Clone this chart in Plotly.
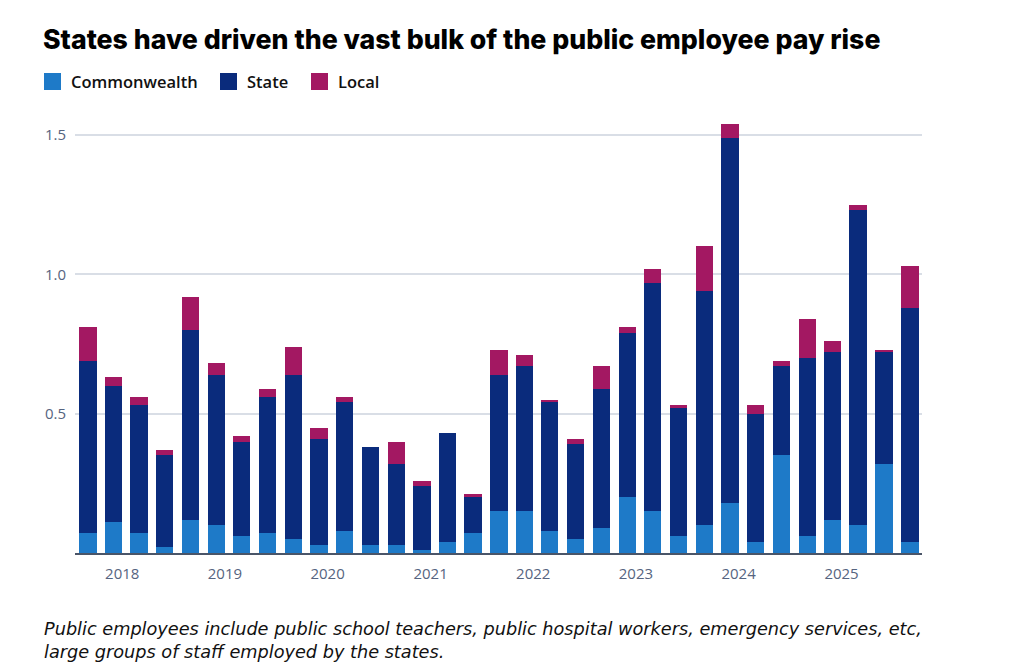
import plotly.graph_objects as go
import pandas as pd

# Quarterly periods (first quarter shown: Sep 2017, last: Sep 2025)
quarters = pd.date_range(start="2017-09-01", periods=33, freq="QS-MAR")

commonwealth = [0.07, 0.11, 0.07, 0.02, 0.12, 0.10, 0.06, 0.07, 0.05, 0.03, 0.08,
                0.03, 0.03, 0.01, 0.04, 0.07, 0.15, 0.15, 0.08, 0.05, 0.09, 0.20,
                0.15, 0.06, 0.10, 0.18, 0.04, 0.35, 0.06, 0.12, 0.10, 0.32, 0.04]
state = [0.62, 0.49, 0.46, 0.33, 0.68, 0.54, 0.34, 0.49, 0.59, 0.38, 0.46,
         0.35, 0.29, 0.23, 0.39, 0.13, 0.49, 0.52, 0.46, 0.34, 0.50, 0.59,
         0.82, 0.46, 0.84, 1.31, 0.46, 0.32, 0.64, 0.60, 1.13, 0.40, 0.84]
local = [0.12, 0.03, 0.03, 0.02, 0.12, 0.04, 0.02, 0.03, 0.10, 0.04, 0.02,
         0.00, 0.08, 0.02, 0.00, 0.01, 0.09, 0.04, 0.01, 0.02, 0.08, 0.02,
         0.05, 0.01, 0.16, 0.05, 0.03, 0.02, 0.14, 0.04, 0.02, 0.01, 0.15]

series_names = ["Commonwealth", "State", "Local"]
series_colors = ["#1e7ac8", "#0a2b7c", "#a31862"]
y_ticks = [0.5, 1.0, 1.5]
y_tick_labels = ["0.5", "1.0", "1.5"]

W, H = 1024, 668
ML, MR, MT, MB = 75, 102, 107, 115
PW, PH = W - ML - MR, H - MT - MB

bar_width_ms = 61.5 * 86400000

fig = go.Figure()
for name, vals, col in zip(series_names, [commonwealth, state, local], series_colors):
    fig.add_trace(go.Bar(x=quarters, y=vals, name=name, marker_color=col,
                         marker_line_width=0, width=bar_width_ms))


def px_x(px):
    return (px - ML) / PW


def px_y(py):
    return (H - MB - py) / PH


shapes = []
annotations = []
legend_items = [(44, 70), (220, 246), (311, 337)]
for (sx, tx), name, col in zip(legend_items, series_names, series_colors):
    shapes.append(dict(type="rect", xref="paper", yref="paper",
                       x0=px_x(sx), x1=px_x(sx + 17), y0=px_y(90), y1=px_y(73),
                       fillcolor=col, line_width=0))
    annotations.append(dict(xref="paper", yref="paper", x=px_x(tx - 1), y=px_y(82),
                            xanchor="left", yanchor="middle", showarrow=False,
                            text=name,
                            font=dict(family="Open Sans", size=16.5, color="#111111", weight=600)))

annotations.append(dict(xref="paper", yref="paper", x=px_x(42), y=px_y(640),
                        xanchor="left", yanchor="middle", showarrow=False, align="left",
                        text="Public employees include public school teachers, public hospital workers, emergency services, etc,<br>large groups of staff employed by the states.",
                        font=dict(family="DejaVu Sans", size=17.7, color="#111111", style="italic")))

fig.update_layout(
    width=W, height=H,
    margin=dict(l=ML, r=MR, t=MT, b=MB),
    paper_bgcolor="white", plot_bgcolor="white",
    barmode="stack",
    showlegend=False,
    title=dict(text="States have driven the vast bulk of the public employee pay rise",
               xref="container", yref="container", x=43 / W, xanchor="left",
               y=1 - 40 / H, yanchor="middle",
               font=dict(family="Inter", size=26.7, color="#000000", weight=800)),
    shapes=shapes,
    annotations=annotations,
    xaxis=dict(type="date", range=["2017-07-17", "2025-10-14"],
               tick0="2018-01-01", dtick="M12", tickformat="%Y",
               showgrid=False, zeroline=False,
               showline=True, linecolor="#4a5568", linewidth=1.5,
               ticks="", ticklabelstandoff=6,
               tickfont=dict(family="Open Sans", size=15, color="#566480")),
    yaxis=dict(range=[0, 1.6], tickvals=y_ticks, ticktext=y_tick_labels,
               showgrid=True, gridcolor="#d9dee6", gridwidth=1.5,
               zeroline=False, showline=False, ticks="", ticklabelstandoff=8,
               tickfont=dict(family="Open Sans", size=15, color="#566480")),
)

fig.write_html("out.html")
